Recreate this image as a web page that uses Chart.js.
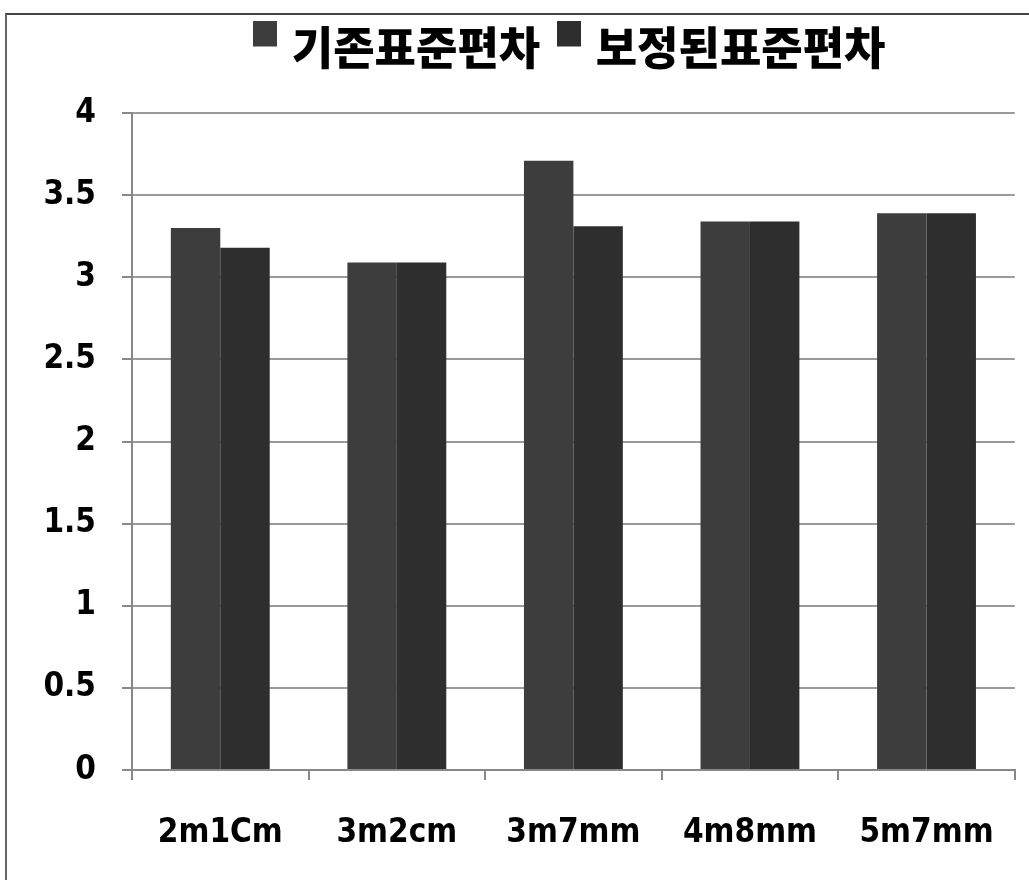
<!DOCTYPE html>
<html>
<head>
<meta charset="utf-8">
<script src="https://cdn.jsdelivr.net/npm/chart.js@4"></script>
<style>
    html, body { margin: 0; padding: 0; background: #ffffff; }
    #wrap {
        position: relative;
        width: 1029px;
        height: 880px;
    }
    #frame {
        position: absolute;
        left: 5px; top: 13px; width: 1024px; height: 867px;
        border-top: 2px solid #444;
        border-left: 2px solid #666;
        box-sizing: border-box;
        pointer-events: none;
    }
</style>
</head>
<body>
<div id="wrap">
    <canvas id="chartStd" width="1029" height="880"></canvas>
    <div id="frame"></div>
</div>
<script>
// Data
const categories = ['2m1Cm', '3m2cm', '3m7mm', '4m8mm', '5m7mm'];
const seriesNames = ['기존표준편차', '보정된표준편차'];
const originalStd = [3.30, 3.09, 3.71, 3.34, 3.39];
const correctedStd = [3.18, 3.09, 3.31, 3.34, 3.39];
const yTicks = [0, 0.5, 1, 1.5, 2, 2.5, 3, 3.5, 4];

const BAR_COLORS = ['#3d3d3d', '#2e2e2e'];
const TICK_FONT = { family: '"DejaVu Sans Condensed", "DejaVu Sans", sans-serif', size: 33, weight: 'bold' };

// legend marker sits high next to the text, so draw it as a small image
function legendMarker(color) {
    const c = document.createElement('canvas');
    c.width = 24;
    c.height = 54;
    const g = c.getContext('2d');
    g.fillStyle = color;
    g.fillRect(0, 0, 24, 26);
    return c;
}

// push the plot down below the legend, like the original
const legendGap = {
    id: 'legendGap',
    beforeInit(chart) {
        const fit = chart.legend.fit;
        chart.legend.fit = function () {
            fit.bind(chart.legend)();
            this.height = 113;
        };
    }
};

document.addEventListener("DOMContentLoaded", () => {
    const ctx = document.getElementById('chartStd').getContext('2d');
    const markers = BAR_COLORS.map(legendMarker);
    new Chart(ctx, {
        type: 'bar',
        data: {
            labels: categories,
            datasets: [{
                label: seriesNames[0],
                data: originalStd,
                backgroundColor: BAR_COLORS[0],
                categoryPercentage: 0.56,
                barPercentage: 1.0
            }, {
                label: seriesNames[1],
                data: correctedStd,
                backgroundColor: BAR_COLORS[1],
                categoryPercentage: 0.56,
                barPercentage: 1.0
            }]
        },
        options: {
            responsive: false,
            animation: false,
            layout: { padding: { top: 0, right: 14, bottom: 0, left: 0 } },
            scales: {
                y: {
                    min: 0,
                    max: 4,
                    afterBuildTicks: (s) => { s.ticks = yTicks.map(v => ({ value: v })); },
                    afterFit: (s) => { s.width = 132; },
                    ticks: {
                        color: '#000',
                        font: TICK_FONT,
                        padding: 26,
                        callback: (v) => String(v)
                    },
                    grid: {
                        color: '#9a9a9a',
                        lineWidth: 2,
                        tickLength: 10,
                        tickColor: '#888'
                    },
                    border: { color: '#888', width: 2 }
                },
                x: {
                    afterFit: (s) => { s.height = 110; },
                    ticks: {
                        color: '#000',
                        font: TICK_FONT,
                        padding: 34
                    },
                    grid: {
                        drawOnChartArea: false,
                        tickLength: 10,
                        tickColor: '#888',
                        lineWidth: 2
                    },
                    border: { color: '#888', width: 2 }
                }
            },
            plugins: {
                legend: {
                    position: 'top',
                    fullSize: false,
                    labels: {
                        color: '#000',
                        font: { family: '"Noto Sans CJK KR", sans-serif', size: 45, weight: 900 },
                        usePointStyle: true,
                        boxWidth: 8,
                        boxHeight: 26,
                        padding: 25,
                        generateLabels: (chart) => {
                            const items = Chart.defaults.plugins.legend.labels.generateLabels(chart);
                            items.forEach((it, i) => { it.pointStyle = markers[i]; });
                            return items;
                        }
                    }
                },
                tooltip: { enabled: false }
            }
        },
        plugins: [legendGap]
    });
});
</script>
</body>
</html>
